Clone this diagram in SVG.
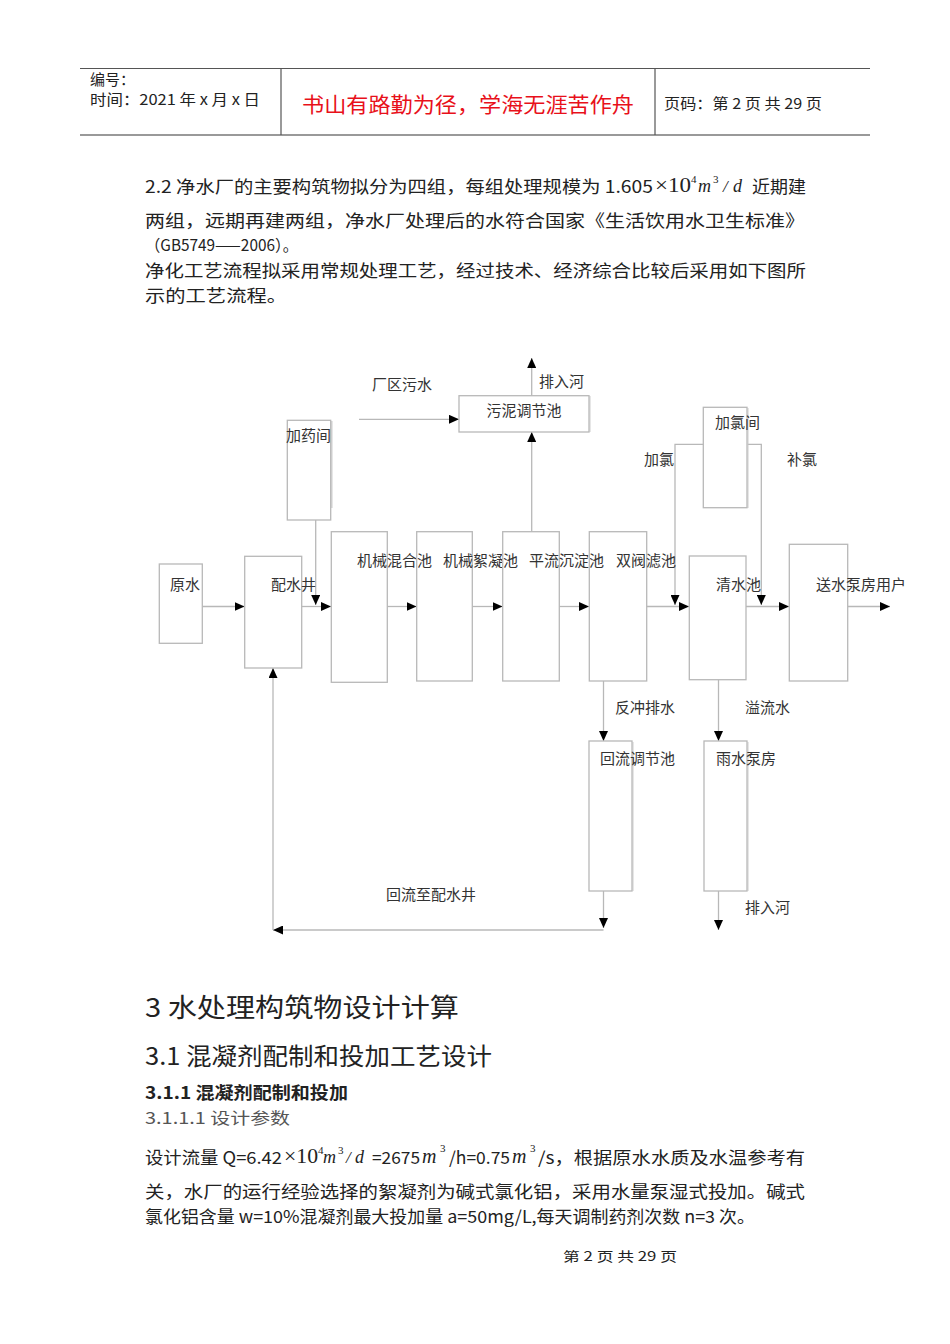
<svg xmlns="http://www.w3.org/2000/svg" width="950" height="1344" viewBox="0 0 950 1344">
<style>
.t{font-family:"Noto Sans CJK SC","Liberation Sans",sans-serif;fill:#222}
.d{font-family:"Noto Sans CJK SC","Liberation Sans",sans-serif;font-size:15px;fill:#333}
.m{font-family:"Liberation Serif","Noto Sans CJK SC",serif;fill:#222}
.box{fill:none;stroke:#b8b8b8;stroke-width:1.3}
.sh{fill:none;stroke:#c8c8c8;stroke-width:1.3}
.ln{fill:none;stroke:#b8b8b8;stroke-width:1.3}
.hl{stroke:#555;stroke-width:1.2}
</style>
<defs>
<marker id="ar" markerUnits="userSpaceOnUse" markerWidth="10" markerHeight="9" refX="10" refY="4.5" orient="auto">
<path d="M0,0 L10,4.5 L0,9 z" fill="#000"/>
</marker>
</defs>
<rect width="950" height="1344" fill="#fff"/>
<g id="header">
<line class="hl" x1="80" y1="68.5" x2="870" y2="68.5"/>
<line x1="80" y1="135" x2="870" y2="135" stroke="#999" stroke-width="2"/>
<line class="hl" x1="281" y1="68" x2="281" y2="135"/>
<line class="hl" x1="655" y1="68" x2="655" y2="135"/>
<text class="t" x="90" y="85" font-size="15">编号：</text>
<text class="t" x="90" y="105" font-size="15" textLength="170" lengthAdjust="spacingAndGlyphs">时间：2021 年 x 月 x 日</text>
<text class="t" x="302" y="112" font-size="21" style="fill:#e8101a" textLength="332" lengthAdjust="spacingAndGlyphs">书山有路勤为径，学海无涯苦作舟</text>
<text class="t" x="664" y="109" font-size="15" textLength="158" lengthAdjust="spacingAndGlyphs">页码：第 2 页 共 29 页</text>
</g>
<g id="intro">
<text class="t" x="145" y="193" font-size="17" textLength="508" lengthAdjust="spacingAndGlyphs">2.2 净水厂的主要构筑物拟分为四组，每组处理规模为 1.605</text>
<text class="m" x="655" y="192" font-size="20" textLength="36" lengthAdjust="spacingAndGlyphs">×10</text>
<text class="m" x="691" y="183" font-size="11">4</text>
<text class="m" x="698" y="192" font-size="18" font-style="italic">m</text>
<text class="m" x="713" y="183" font-size="11">3</text>
<text class="m" x="723" y="192" font-size="17" font-style="italic">/</text>
<text class="m" x="733" y="192" font-size="18" font-style="italic">d</text>
<text class="t" x="752" y="193" font-size="17" textLength="54" lengthAdjust="spacingAndGlyphs">近期建</text>
<text class="t" x="145" y="227" font-size="17" textLength="660" lengthAdjust="spacingAndGlyphs">两组，远期再建两组，净水厂处理后的水符合国家《生活饮用水卫生标准》</text>
<text class="t" x="145" y="251" font-size="16" textLength="153" lengthAdjust="spacingAndGlyphs">（GB5749——2006）。</text>
<text class="t" x="145" y="277" font-size="17" textLength="661" lengthAdjust="spacingAndGlyphs">净化工艺流程拟采用常规处理工艺，经过技术、经济综合比较后采用如下图所</text>
<text class="t" x="145" y="302" font-size="17" textLength="142" lengthAdjust="spacingAndGlyphs">示的工艺流程。</text>
</g>
<g id="connectors">
<path class="ln" d="M202,606.5 L244.5,606.5" marker-end="url(#ar)"/>
<path class="ln" d="M301.5,606.5 L331,606.5" marker-end="url(#ar)"/>
<path class="ln" d="M315.7,520 L315.7,605" marker-end="url(#ar)"/>
<path class="ln" d="M387,606.5 L416.5,606.5" marker-end="url(#ar)"/>
<path class="ln" d="M472,606.5 L502.5,606.5" marker-end="url(#ar)"/>
<path class="ln" d="M559,606.5 L589,606.5" marker-end="url(#ar)"/>
<path class="ln" d="M646.5,606.5 L689,606.5" marker-end="url(#ar)"/>
<path class="ln" d="M703.3,444.3 L675,444.3 L675,605" marker-end="url(#ar)"/>
<path class="ln" d="M747,444.3 L761.3,444.3 L761.3,605" marker-end="url(#ar)"/>
<path class="ln" d="M746,606.5 L789,606.5" marker-end="url(#ar)"/>
<path class="ln" d="M848,606.5 L890,606.5" marker-end="url(#ar)"/>
<path class="ln" d="M531.7,531.7 L531.7,432" marker-end="url(#ar)"/>
<path class="ln" d="M359,419.3 L459,419.3" marker-end="url(#ar)"/>
<path class="ln" d="M531.7,395.7 L531.7,358" marker-end="url(#ar)"/>
<path class="ln" d="M603.5,681 L603.5,741" marker-end="url(#ar)"/>
<path class="ln" d="M718.5,680 L718.5,741" marker-end="url(#ar)"/>
<path class="ln" d="M603.5,891 L603.5,928" marker-end="url(#ar)"/>
<path class="ln" d="M603.5,930 L273,930" marker-end="url(#ar)"/>
<path class="ln" d="M273,930 L273,668" marker-end="url(#ar)"/>
<path class="ln" d="M718.5,891 L718.5,930" marker-end="url(#ar)"/>
</g>
<g id="n-yuanshui"><rect class="box" x="159.3" y="564" width="43" height="79.3"/><text class="d" x="170" y="590">原水</text></g>
<g id="n-peishuijing"><rect class="box" x="244.7" y="556.3" width="57" height="111.7"/><text class="d" x="271" y="590">配水井</text></g>
<g id="n-jiayaojian"><rect class="box" x="287.3" y="420.3" width="43.4" height="99.7"/><line class="sh" x1="331.8" y1="421" x2="331.8" y2="508"/><text class="d" x="286" y="441">加药间</text></g>
<g id="n-hunhe"><rect class="box" x="331.3" y="531.7" width="56" height="150.6"/><text class="d" x="357" y="566">机械混合池</text></g>
<g id="n-xuning"><rect class="box" x="416.7" y="531.7" width="55.6" height="149.3"/><text class="d" x="443" y="566">机械絮凝池</text></g>
<g id="n-chendian"><rect class="box" x="502.7" y="531.7" width="56.6" height="149.3"/><text class="d" x="529" y="566">平流沉淀池</text></g>
<g id="n-lvchi"><rect class="box" x="589.3" y="531.7" width="57.4" height="149.3"/><text class="d" x="616" y="566">双阀滤池</text></g>
<g id="n-qingshui"><rect class="box" x="689.3" y="556" width="56.7" height="123.7"/><text class="d" x="716" y="590">清水池</text></g>
<g id="n-songshui"><rect class="box" x="789.3" y="544.3" width="58.4" height="136.7"/><text class="d" x="816" y="590">送水泵房用户</text></g>
<g id="n-wuni"><rect class="box" x="459" y="395.7" width="130" height="36.3"/><line class="sh" x1="589.8" y1="396" x2="589.8" y2="432"/><text class="d" x="524" y="416" text-anchor="middle">污泥调节池</text></g>
<g id="n-jialvjian"><rect class="box" x="703.3" y="407.3" width="43.7" height="100.4"/><line class="sh" x1="747.8" y1="408" x2="747.8" y2="508"/><text class="d" x="715" y="428">加氯间</text></g>
<g id="n-huiliu"><rect class="box" x="589" y="741" width="43" height="150"/><line class="sh" x1="632.8" y1="742" x2="632.8" y2="891"/><text class="d" x="600" y="764">回流调节池</text></g>
<g id="n-yushui"><rect class="box" x="704" y="741" width="43" height="150"/><line class="sh" x1="747.8" y1="742" x2="747.8" y2="891"/><text class="d" x="716" y="764">雨水泵房</text></g>
<g id="labels">
<text class="d" x="372" y="390">厂区污水</text>
<text class="d" x="539" y="387">排入河</text>
<text class="d" x="644" y="465">加氯</text>
<text class="d" x="787" y="465">补氯</text>
<text class="d" x="615" y="713">反冲排水</text>
<text class="d" x="745" y="713">溢流水</text>
<text class="d" x="386" y="900">回流至配水井</text>
<text class="d" x="745" y="913">排入河</text>
</g>
<g id="section">
<text class="t" x="145" y="1017" font-size="26" textLength="314" lengthAdjust="spacingAndGlyphs">3 水处理构筑物设计计算</text>
<text class="t" x="145" y="1065" font-size="24" textLength="347" lengthAdjust="spacingAndGlyphs">3.1 混凝剂配制和投加工艺设计</text>
<text class="t" x="145" y="1099" font-size="17" font-weight="bold" textLength="203" lengthAdjust="spacingAndGlyphs">3.1.1 混凝剂配制和投加</text>
<text class="t" x="145" y="1124" font-size="16" style="fill:#555" textLength="145" lengthAdjust="spacingAndGlyphs">3.1.1.1 设计参数</text>
<text class="t" x="145" y="1164" font-size="17" textLength="137" lengthAdjust="spacingAndGlyphs">设计流量 Q=6.42</text>
<text class="m" x="284" y="1163" font-size="20" textLength="34" lengthAdjust="spacingAndGlyphs">×10</text>
<text class="m" x="318" y="1154" font-size="11">4</text>
<text class="m" x="323" y="1163" font-size="18" font-style="italic">m</text>
<text class="m" x="338" y="1154" font-size="11">3</text>
<text class="m" x="346" y="1163" font-size="17" font-style="italic">/</text>
<text class="m" x="355" y="1163" font-size="18" font-style="italic">d</text>
<text class="t" x="372" y="1164" font-size="17" textLength="48" lengthAdjust="spacingAndGlyphs">=2675</text>
<text class="m" x="422" y="1163" font-size="20" font-style="italic">m</text>
<text class="m" x="440" y="1152" font-size="11">3</text>
<text class="t" x="449" y="1164" font-size="17" textLength="61" lengthAdjust="spacingAndGlyphs">/h=0.75</text>
<text class="m" x="512" y="1163" font-size="20" font-style="italic">m</text>
<text class="m" x="530" y="1152" font-size="11">3</text>
<text class="t" x="538" y="1164" font-size="17" textLength="267" lengthAdjust="spacingAndGlyphs">/s，根据原水水质及水温参考有</text>
<text class="t" x="145" y="1198" font-size="17" textLength="660" lengthAdjust="spacingAndGlyphs">关，水厂的运行经验选择的絮凝剂为碱式氯化铝，采用水量泵湿式投加。碱式</text>
<text class="t" x="145" y="1223" font-size="17" textLength="610" lengthAdjust="spacingAndGlyphs">氯化铝含量 w=10%混凝剂最大投加量 a=50mg/L,每天调制药剂次数 n=3 次。</text>
</g>
<g id="footer">
<text class="t" x="563" y="1261" font-size="13" textLength="114" lengthAdjust="spacingAndGlyphs">第 2 页 共 29 页</text>
</g>
</svg>
